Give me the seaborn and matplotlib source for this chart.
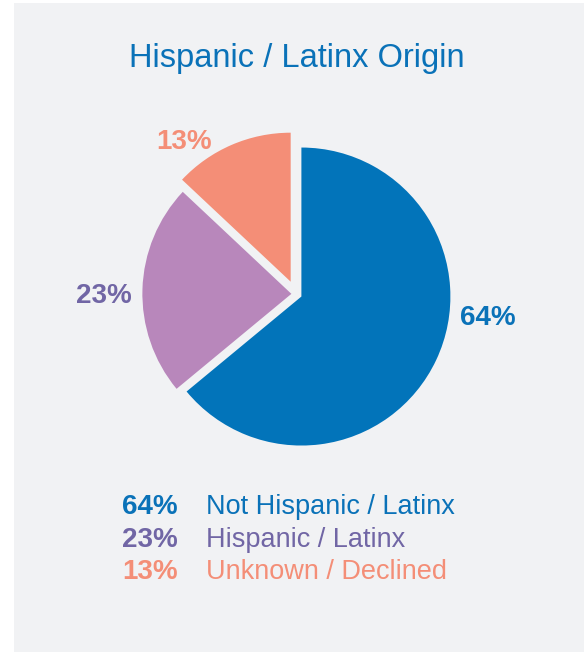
import matplotlib
matplotlib.use('Agg')
import matplotlib.pyplot as plt
import seaborn as sns
from matplotlib.patches import Rectangle

# data
categories = ['Not Hispanic / Latinx', 'Hispanic / Latinx', 'Unknown / Declined']
shares = [64, 23, 13]
wedge_colors = ['#0274BA', '#B887BB', '#F48E77']
text_colors = ['#0A72B8', '#7166A5', '#F48E77']
title = 'Hispanic / Latinx Origin'

sns.set_theme(style='white')
plt.rcParams['font.family'] = ['Liberation Sans', 'DejaVu Sans']

W, H = 584, 652
fig = plt.figure(figsize=(W / 100, H / 100), dpi=100)
fig.patch.set_facecolor('white')

# light grey card behind everything
fig.patches.append(Rectangle((14 / W, 0), 1 - 14 / W, 1 - 3 / H,
                             transform=fig.transFigure, facecolor='#F1F2F4',
                             edgecolor='none', zorder=-5))

fig.text(297 / W, 1 - 58 / H, title, ha='center', va='center',
         fontsize=23.5, color='#0A72B8')

# pie axes: centre (296, 294) px, radius 149 px
cx, cy, r, half = 296, 294, 149, 200
ax = fig.add_axes([(cx - half) / W, (H - cy - half) / H, 2 * half / W, 2 * half / H])
ax.set_zorder(5)
ax.pie(shares, colors=wedge_colors, startangle=90, counterclock=False,
       explode=[0.04, 0.031, 0.09], radius=1,
       wedgeprops=dict(linewidth=0))
lim = half / r
ax.set_xlim(-lim, lim)
ax.set_ylim(-lim, lim)
ax.set_aspect('equal')
ax.axis('off')

label_pos = [(1.289, -0.158), (-1.289, -0.013), (-0.752, 1.020)]
for s, c, (x, y) in zip(shares, text_colors, label_pos):
    ax.text(x, y, f'{s}%', ha='center', va='center', fontsize=20,
            fontweight='bold', color=c)

# legend rows
row_y = [507, 540, 572]
for cat, s, c, y in zip(categories, shares, text_colors, row_y):
    fig.text(178 / W, 1 - y / H, f'{s}%', ha='right', va='center',
             fontsize=20, fontweight='bold', color=c)
    fig.text(206 / W, 1 - y / H, cat, ha='left', va='center',
             fontsize=19.5, color=c)

fig.savefig('out.png', dpi=100, facecolor=fig.get_facecolor())
